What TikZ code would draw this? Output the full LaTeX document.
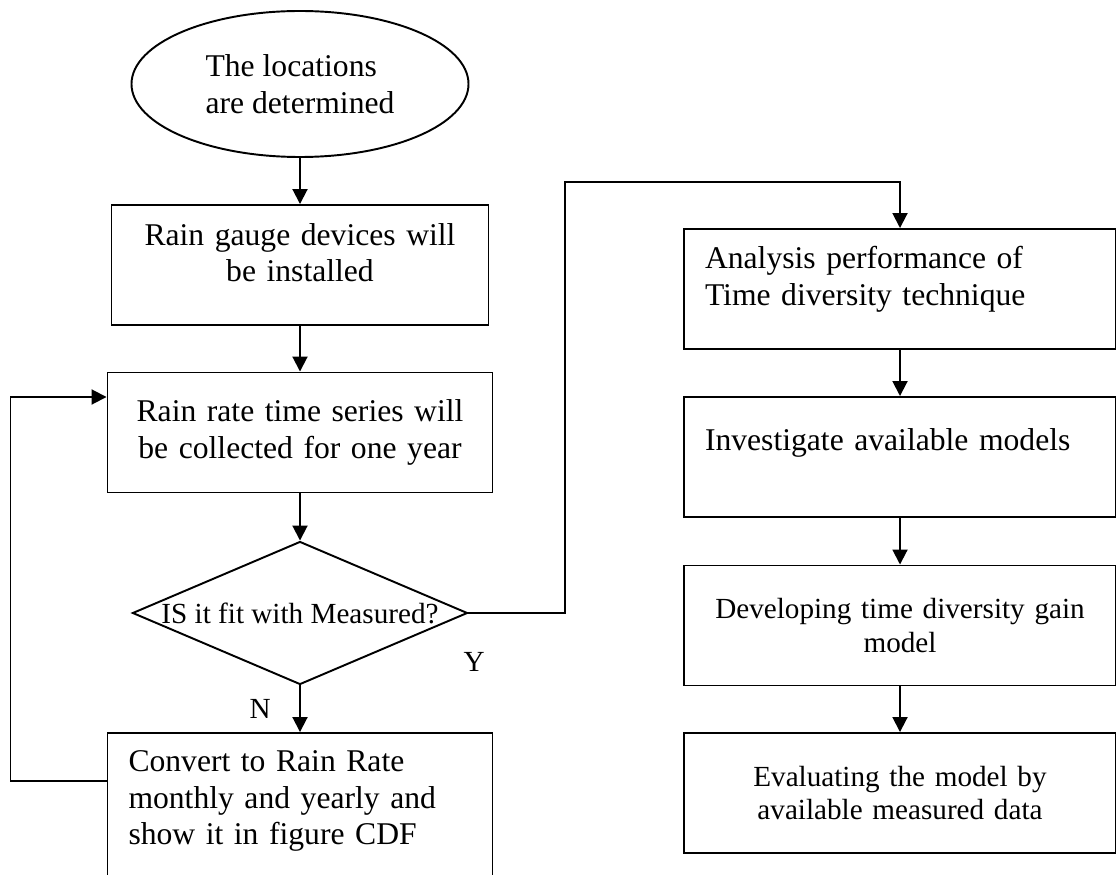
\documentclass[tikz,border=0pt]{standalone}
\usepackage{fontspec}
\setmainfont{Liberation Serif}
\usetikzlibrary{positioning}
\usetikzlibrary{arrows.meta}
\usetikzlibrary{shapes.geometric}
\newcommand*{\boxfont}{\fontsize{18}{20.8}\selectfont}
\newcommand*{\minorfont}{\fontsize{16.6}{19}\selectfont}

\begin{document}
\begin{tikzpicture}[->,>={Triangle[length=0.3cm,width=0.3cm]},line width=1.1pt,font=\boxfont]
        \tikzset{stepbox/.style={shape=rectangle,draw,minimum height=2.4cm,inner xsep=0.42cm,text width=#1,align=center}}
        \tikzset{lift/.style={execute at end node={\vspace{#1}}}}
        \tikzset{decision/.style={shape=diamond,draw,aspect=2.34,inner sep=0pt,minimum width=6.7cm,minimum height=2.86cm,font=\minorfont}}

        \useasboundingbox (0,0) rectangle (22.32,-17.5);

        \node[ellipse,draw,minimum width=6.74cm,minimum height=2.92cm,inner sep=0pt,align=left] (loc) at (6,-1.68) {The locations\\are determined};
        \node[stepbox=6.7cm,lift=0.49cm] (gauge) at (6,-5.3) {Rain gauge devices will\\be installed};
        \node[stepbox=6.86cm] (collect) at (6,-8.65) {Rain rate time series will\\be collected for one year};
        \node[decision] (check) at (6,-12.26) {IS it fit with Measured?};
        \node[stepbox=6.86cm,align=left,minimum height=3.2cm,lift=0.48cm] (convert) at (6,-16.26) {Convert to Rain Rate\\monthly and yearly and\\show it in figure CDF};

        \node[stepbox=7.8cm,align=left,lift=0.39cm] (analysis) at (18,-5.78) {Analysis performance of\\Time diversity technique};
        \node[stepbox=7.8cm,align=left,lift=0.58cm] (models) at (18,-9.14) {Investigate available models};
        \node[stepbox=7.8cm,font=\minorfont] (develop) at (18,-12.51) {Developing time diversity gain\\model};
        \node[stepbox=7.8cm,font=\minorfont] (evaluate) at (18,-15.86) {Evaluating the model by\\available measured data};

        \coordinate (turn) at (11.3,-3.64);
        \coordinate (loopout) at (0.21,-15.62);
        \coordinate (loopin) at (0.21,-7.94);

        \path (loc) edge (gauge);
        \path (gauge) edge (collect);
        \path (collect) edge (check);
        \path (check) edge node[left=0.45cm,font=\minorfont] (no) {N} (convert);
        \path (analysis) edge (models);
        \path (models) edge (develop);
        \path (develop) edge (evaluate);

        \draw (check.east) -| node[pos=0.03,below=0.65cm,font=\minorfont] (yes) {Y} (turn) -| (analysis.north);
        \draw (convert.west |- loopout) -- (loopout) -- (loopin) -- (collect.west |- loopin);
    \end{tikzpicture}
\end{document}
